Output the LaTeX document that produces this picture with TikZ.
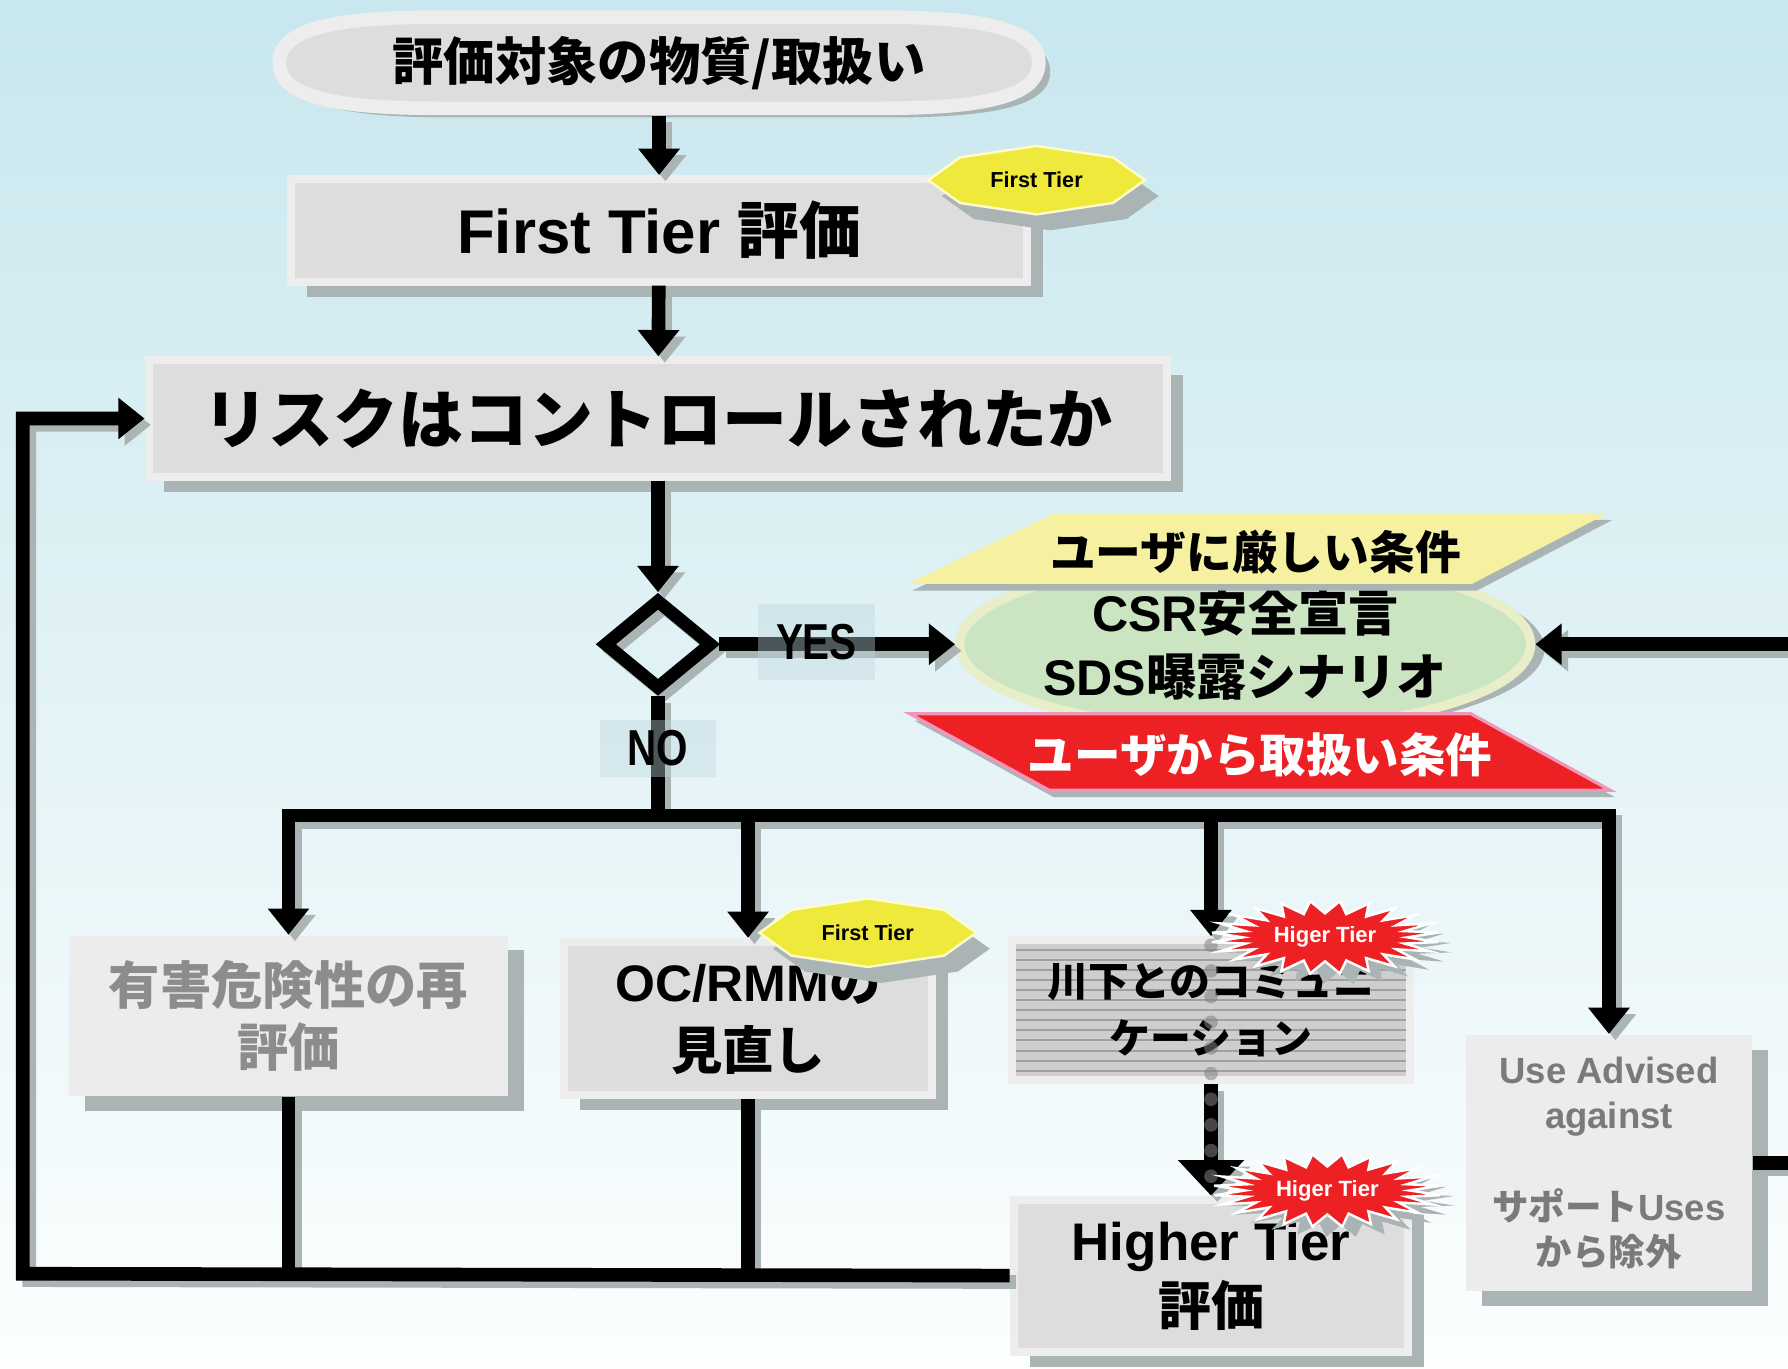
\documentclass[tikz,border=0pt]{standalone}
\usepackage{fontspec}
\setmainfont{Liberation Sans}
\newfontfamily\jp{Noto Sans CJK JP}
\usetikzlibrary{arrows.meta,calc,positioning,shapes.geometric,shadows}

\definecolor{bgtop}{RGB}{200,231,238}
\definecolor{bgbottom}{RGB}{252,254,254}
\definecolor{boxrim}{RGB}{237,237,237}
\definecolor{boxfill}{RGB}{221,221,221}
\definecolor{paleboxfill}{RGB}{236,236,236}
\definecolor{shadowgray}{RGB}{170,180,180}
\definecolor{fadedtext}{RGB}{140,140,140}
\definecolor{advisetext}{RGB}{122,122,122}
\definecolor{csrfill}{RGB}{203,229,194}
\definecolor{csrrim}{RGB}{231,238,200}
\definecolor{strictyellow}{RGB}{245,241,160}
\definecolor{userred}{RGB}{237,32,36}
\definecolor{userrim}{RGB}{242,150,185}
\definecolor{tieryellow}{RGB}{238,233,58}
\definecolor{tagblue}{RGB}{190,215,222}
\definecolor{commfill}{RGB}{206,206,206}
\definecolor{commstripe}{RGB}{160,160,160}

\tikzset{
  inkline/.style={line width=3.4pt,draw=black},
  shadeline/.style={line width=3.4pt,draw=shadowgray,transform canvas={xshift=1.6pt,yshift=-1.6pt}},
  tip/.style={-{Triangle[length=0.23cm,width=0.35cm]}},
  bigtip/.style={-{Triangle[length=0.31cm,width=0.56cm]}},
  boxshadow/.style={drop shadow={shadow xshift=0.14cm,shadow yshift=-0.13cm,fill=shadowgray,opacity=1}},
  stepbox/.style={rectangle,draw=boxrim,line width=2pt,fill=boxfill,inner sep=0pt,align=center,font=\bfseries},
  palebox/.style={rectangle,fill=paleboxfill,inner sep=0pt,align=center,font=\bfseries},
  tag/.style={fill=tagblue,fill opacity=0.4,text opacity=1,inner sep=0pt,font=\bfseries\fontsize{12.6}{14}\selectfont},
  dotline/.style={draw=gray,opacity=0.55,line width=3.4pt,line cap=round,dash pattern=on 0pt off 6.4pt},
  tierstar/.pic={\path[pic actions] (-95,0) -- (-67,-20) -- (0,-30) -- (67,-20) -- (95,0) -- (67,20) -- (0,30) -- (-67,20) -- cycle;},
  burst/.pic={\path[pic actions] plot[samples at={0,7.5,...,352.5}] ({(72+28*mod(round(\x/7.5),2))*cos(\x)},{(21+11*mod(round(\x/7.5),2))*sin(\x)}) -- cycle;},
  capsule/.pic={\path[pic actions] (-193,-40) -- (193,-40) .. controls (291,-40) and (333,-28) .. (333,0) .. controls (333,28) and (291,40) .. (193,40) -- (-193,40) .. controls (-291,40) and (-333,28) .. (-333,0) .. controls (-333,-28) and (-291,-40) .. (-193,-40) -- cycle;}
}

% every connector, drawn once as shadow and once in black
\newcommand\drawlinks[1]{%
  \draw[#1,tip] (start) -- (first);
  \draw[#1,tip] (first) -- (risk);
  \draw[#1,tip] (risk) -- (dec);
  \draw[#1,tip] (dec) -- (csr);
  \draw[#1] (dec) -- (split);
  \draw[#1,tip] (split) -| (harm);
  \draw[#1,tip] (split) -| (ocrmm);
  \draw[#1,tip] (split) -| (comm);
  \draw[#1,tip] (split) -| (advise);
  \draw[#1,bigtip] (comm) -- (higher);
  \draw[#1] (harm) -- (harm |- loopbl);
  \draw[#1] (ocrmm) -- (ocrmm |- loopbl);
  \draw[#1,tip] (higher) -- (loopbl) |- (risk);
  \draw[#1,tip] (advise) -- (advise -| rightx) |- (csr);
}

\begin{document}
\begin{tikzpicture}[x=0.01cm,y=-0.01cm]
\useasboundingbox (0,0) rectangle (1568,1200);
\fill[top color=bgtop,bottom color=bgbottom] (0,0) rectangle (1568,1200);
\clip (0,0) rectangle (1568,1200);

%start
\pic[fill=shadowgray] at (588,63) {capsule};
\pic[fill=boxfill,draw=boxrim,line width=3.4pt] at (578,55) {capsule};
\node[minimum width=6.77cm,minimum height=0.92cm,inner sep=0pt,font=\bfseries\jp\fontsize{12.8}{15}\selectfont] (start) at (578,55) {評価対象の物質/取扱い};

%upper steps
\node[stepbox,boxshadow,minimum width=6.45cm,minimum height=0.9cm,font=\bfseries\fontsize{15.4}{17}\selectfont] (first) at (578,202) {First Tier {\jp 評価}};
\node[stepbox,boxshadow,minimum width=8.93cm,minimum height=1.02cm,font=\bfseries\jp\fontsize{16.2}{19}\selectfont] (risk) at (577,367) {リスクはコントロールされたか};
\node[diamond,draw,line width=3.2pt,minimum width=0.96cm,minimum height=0.8cm,inner sep=0pt,preaction={draw=shadowgray,transform canvas={xshift=1.6pt,yshift=-1.6pt}}] (dec) at (577,565) {};

%result
\node[ellipse,draw=csrrim,line width=2.3pt,fill=csrfill,minimum width=4.95cm,minimum height=1.5cm,inner sep=0pt,align=center,font=\bfseries\fontsize{12.5}{16}\selectfont,drop shadow={shadow xshift=0.12cm,shadow yshift=-0.04cm,fill=shadowgray,opacity=1}] (csr) at (1092,565) {CSR{\jp 安全宣言}\\SDS{\jp 曝露シナリオ}};
\fill[shadowgray] (800,518) -- (929,456) -- (1414,456) -- (1295,518) -- cycle;
\fill[strictyellow] (796,512) -- (925,450) -- (1410,450) -- (1291,512) -- cycle;
\node[font=\bfseries\jp\fontsize{11.4}{13}\selectfont] (strict) at (1101,484) {ユーザに厳しい条件};
\fill[shadowgray] (802,632) -- (1294,632) -- (1416,699) -- (924,699) -- cycle;
\filldraw[fill=userred,draw=userrim,line width=0.8pt] (798,626) -- (1290,626) -- (1412,693) -- (920,693) -- cycle;
\node[text=white,font=\bfseries\jp\fontsize{11.6}{13}\selectfont] (usercond) at (1105,662) {ユーザから取扱い条件};

%lower steps
\node[palebox,boxshadow,minimum width=3.85cm,minimum height=1.41cm,text=fadedtext,font=\bfseries\jp\fontsize{12.8}{15.6}\selectfont] (harm) at (253,891) {有害危険性の再\\評価};
\node[stepbox,boxshadow,minimum width=3.23cm,minimum height=1.34cm,font=\bfseries\fontsize{12.8}{17}\selectfont] (ocrmm) at (656,893) {OC/RMM{\jp の}\\{\jp 見直し}};
\node[stepbox,minimum width=3.48cm,minimum height=1.23cm,fill=commfill,font=\bfseries\jp\fontsize{10.2}{14.2}\selectfont,
  path picture={\foreach \k in {1,...,15} \draw[commstripe,line width=0.5pt] ($(path picture bounding box.north west)+(0,\k*8.8)$) -- ++(400,0);}] (comm) at (1062,886) {川下とのコミュニ\\ケーション};
\node[stepbox,boxshadow,minimum width=3.46cm,minimum height=1.34cm,font=\bfseries\fontsize{13.2}{16.2}\selectfont] (higher) at (1062,1119) {Higher Tier\\{\jp 評価}};
\node[palebox,boxshadow,minimum width=2.51cm,minimum height=2.25cm,text=advisetext,font=\bfseries\fontsize{9.1}{11.4}\selectfont] (advise) at (1411,1020) {Use Advised\\against\\[11.4pt]{\jp サポート}Uses\\{\jp から除外}};

\coordinate (split) at (577,715);
\coordinate (loopbl) at (20,1117);
\coordinate (rightx) at (1630,0);

\drawlinks{shadeline}
\drawlinks{inkline}

\node[tag,minimum width=1.02cm,minimum height=0.66cm] (yes) at (716,563) {\scalebox{0.8}[1]{YES}};
\node[tag,minimum width=1.02cm,minimum height=0.5cm] (no) at (577,656) {\scalebox{0.8}[1]{NO}};
\draw[dotline] ($(comm.north)+(0,8)$) -- ($(higher.north)+(0,-12)$);

%tier marks
\foreach \n/\bx/\by in {1/909/158,2/761/818} {
  \pic[fill=shadowgray] at ({\bx+12},{\by+14}) {tierstar};
  \pic[fill=tieryellow,draw=white!80!yellow,line width=0.6pt] at (\bx,\by) {tierstar};
  \node[font=\bfseries\fontsize{5.4}{6}\selectfont] (tier\n) at (\bx,\by) {First Tier};
}
\foreach \n/\bx/\by in {1/1162/822,2/1164/1044} {
  \pic[fill=shadowgray] at ({\bx+12},{\by+9}) {burst};
  \pic[fill=userred,draw=white,line width=0.6pt] at (\bx,\by) {burst};
  \node[text=white,font=\bfseries\fontsize{5.5}{6}\selectfont] (higer\n) at (\bx,\by) {Higer Tier};
}
\end{tikzpicture}
\end{document}
